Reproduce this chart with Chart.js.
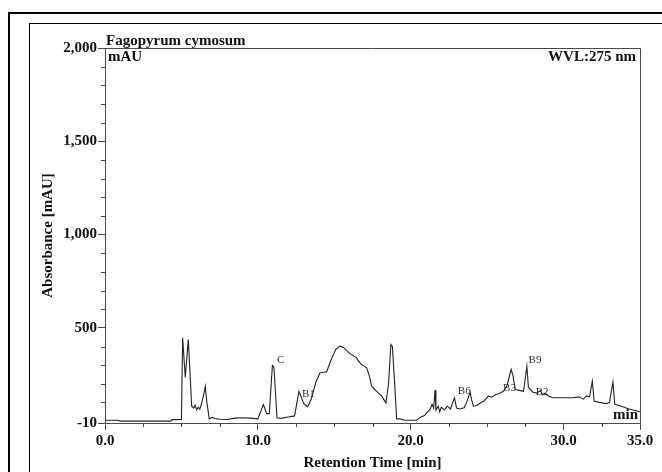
<!DOCTYPE html>
<html>
<head>
<meta charset="utf-8">
<script src="https://cdn.jsdelivr.net/npm/chart.js@4.4.0/dist/chart.umd.min.js"></script>
<style>
  html, body { margin: 0; padding: 0; background: #fff; }
  canvas { display: block; }
</style>
</head>
<body>
<canvas id="chrom" width="662" height="472"></canvas>
<script>
// -------------------------
// Data
// -------------------------
const retentionTime = [
  0.0, 0.8, 1.0, 2.0, 3.0, 4.3, 4.4, 5.0, 5.08, 5.25, 5.45, 5.67, 5.8, 5.9, 6.0, 6.1, 6.2, 6.3, 6.45, 6.56,
  6.65, 6.82, 7.0, 7.2, 7.5, 8.0, 8.5, 9.0, 9.5, 10.0, 10.36, 10.58, 10.75, 10.95, 11.05, 11.25, 11.5, 12.0, 12.4, 12.69,
  13.0, 13.26, 13.5, 13.8, 14.07, 14.3, 14.5, 14.8, 15.1, 15.37, 15.6, 16.03, 16.46, 16.6, 16.79, 17.12, 17.3, 17.44, 17.77, 18.1,
  18.38, 18.55, 18.7, 18.8, 18.95, 19.08, 19.3, 19.6, 20.0, 20.39, 20.6, 20.9, 21.1, 21.26, 21.4, 21.5, 21.59, 21.65, 21.8, 21.9,
  22.0, 22.2, 22.4, 22.6, 22.86, 23.0, 23.2, 23.5, 23.7, 23.88, 24.0, 24.1, 24.32, 24.6, 24.8, 25.08, 25.3, 25.5, 25.8, 26.06, 26.3, 26.57, 26.7,
  26.83, 27.1, 27.38, 27.6, 27.7, 28.0, 28.25, 28.5, 28.6, 28.8, 29.0, 29.3, 30.2, 30.64, 31.0, 31.3, 31.5, 31.7, 31.88, 32.0,
  32.79, 33.0, 33.23, 33.35, 33.7, 34.23, 35.0
];
const absorbance = [
  5, 5, 0, 0, 0, 0, 8, 9, 447, 234, 437, 80, 70, 85, 60, 75, 65, 90, 140, 187,
  110, 12, 20, 14, 10, 9, 16, 18, 16, 12, 89, 40, 40, 298, 290, 18, 15, 22, 28, 160,
  95, 77, 120, 210, 259, 262, 265, 330, 385, 402, 395, 362, 339, 320, 303, 286, 240, 187, 160, 134,
  98, 200, 411, 400, 200, 12, 12, 5, 5, 5, 20, 30, 50, 62, 90, 70, 166, 60, 80, 50,
  75, 60, 80, 65, 125, 70, 65, 72, 110, 155, 110, 80, 84, 100, 108, 134, 128, 140, 148, 160, 190, 277, 240,
  170, 165, 160, 294, 180, 155, 150, 165, 140, 150, 135, 125, 125, 125, 130, 118, 135, 130, 214, 107,
  94, 100, 209, 90, 82, 66, 50
];

// peak annotations
const peakLabels = ["C", "B1", "B6", "B3", "B9", "B2"];
const peakLabelTime = [11.5, 13.3, 23.5, 26.46, 28.13, 28.6];
const peakLabelValue = [325, 143, 160, 175, 325, 153];

// axis ticks
const xMajorTicks = [0, 10, 20, 30, 35];
const xMinorTicks = [2.5, 5, 7.5, 12.5, 15, 17.5, 22.5, 25, 27.5, 32.5];
const yMajorTicks = [-10, 500, 1000, 1500, 2000];
const yMinorTicks = [100, 200, 300, 400, 600, 700, 800, 900, 1100, 1200, 1300, 1400, 1600, 1700, 1800, 1900];

const SERIF = "'Liberation Serif', 'Times New Roman', serif";
const AXIS_COLOR = "#4a4a4a";
const TEXT_COLOR = "#111";

// -------------------------
// Frame, minor ticks and texts
// -------------------------
const decorPlugin = {
  id: "decor",
  beforeDraw(chart) {
    const ctx = chart.ctx;
    ctx.save();
    ctx.fillStyle = "#fff";
    ctx.fillRect(0, 0, chart.width, chart.height);
    ctx.strokeStyle = "#000";
    ctx.lineWidth = 2;
    ctx.strokeRect(9, 13, chart.width + 20, chart.height + 20);
    ctx.lineWidth = 1;
    ctx.strokeRect(29.5, 23.5, chart.width + 20, chart.height + 20);
    ctx.restore();
  },
  afterDraw(chart) {
    const ctx = chart.ctx;
    const { left, right, top, bottom } = chart.chartArea;
    const xs = chart.scales.x, ys = chart.scales.y;
    ctx.save();

    // box on top / right
    ctx.strokeStyle = AXIS_COLOR;
    ctx.lineWidth = 1;
    ctx.beginPath();
    ctx.moveTo(left, top + 0.5);
    ctx.lineTo(right + 0.5, top + 0.5);
    ctx.lineTo(right + 0.5, bottom);
    ctx.stroke();

    // minor ticks
    ctx.beginPath();
    xMinorTicks.forEach(v => {
      const px = Math.round(xs.getPixelForValue(v)) + 0.5;
      ctx.moveTo(px, bottom);
      ctx.lineTo(px, bottom + 4);
    });
    yMinorTicks.forEach(v => {
      const py = Math.round(ys.getPixelForValue(v)) + 0.5;
      ctx.moveTo(left, py);
      ctx.lineTo(left - 4, py);
    });
    ctx.stroke();

    // header texts
    ctx.fillStyle = TEXT_COLOR;
    ctx.font = "bold 15px " + SERIF;
    ctx.textBaseline = "alphabetic";
    ctx.textAlign = "left";
    ctx.fillText("Fagopyrum cymosum", left + 1, top - 3);
    ctx.fillText("mAU", left + 3, top + 13);
    ctx.textAlign = "right";
    ctx.fillText("WVL:275 nm", right - 4, top + 13);
    ctx.fillText("min", right - 2, bottom - 4);

    // axis titles
    ctx.textAlign = "center";
    ctx.fillText("Retention Time [min]", (left + right) / 2, 467);
    ctx.save();
    ctx.translate(48, (top + bottom) / 2);
    ctx.rotate(-Math.PI / 2);
    ctx.textBaseline = "middle";
    ctx.fillText("Absorbance [mAU]", 0, 0);
    ctx.restore();

    // peak labels
    ctx.font = "11px " + SERIF;
    ctx.fillStyle = "#333";
    ctx.textAlign = "center";
    ctx.textBaseline = "middle";
    peakLabels.forEach((lab, i) => {
      ctx.fillText(lab, xs.getPixelForValue(peakLabelTime[i]), ys.getPixelForValue(peakLabelValue[i]));
    });
    ctx.restore();
  }
};

// -------------------------
// Chart
// -------------------------
const ctx = document.getElementById("chrom").getContext("2d");

new Chart(ctx, {
  type: "line",
  data: {
    datasets: [{
      data: retentionTime.map((t, i) => ({ x: t, y: absorbance[i] })),
      borderColor: "#222",
      borderWidth: 1.1,
      pointRadius: 0,
      tension: 0,
      fill: false
    }]
  },
  options: {
    responsive: false,
    animation: false,
    layout: { padding: { top: 48, right: 22, left: 0, bottom: 0 } },
    plugins: { legend: { display: false }, tooltip: { enabled: false } },
    scales: {
      x: {
        type: "linear",
        min: 0,
        max: 35,
        afterBuildTicks: s => { s.ticks = xMajorTicks.map(v => ({ value: v })); },
        afterFit: s => { s.height = 49; },
        ticks: {
          autoSkip: false,
          maxRotation: 0,
          padding: 2,
          color: TEXT_COLOR,
          font: { family: SERIF, size: 15, weight: "bold" },
          callback: v => Number(v).toFixed(1)
        },
        grid: { drawOnChartArea: false, drawTicks: true, tickLength: 7, color: AXIS_COLOR },
        border: { display: true, color: AXIS_COLOR }
      },
      y: {
        min: -10,
        max: 2000,
        afterBuildTicks: s => { s.ticks = yMajorTicks.map(v => ({ value: v })); },
        afterFit: s => { s.width = 105; },
        ticks: {
          autoSkip: false,
          padding: 1,
          color: TEXT_COLOR,
          font: { family: SERIF, size: 15, weight: "bold" },
          callback: v => Number(v).toLocaleString("en-US")
        },
        grid: { drawOnChartArea: false, drawTicks: true, tickLength: 7, color: AXIS_COLOR },
        border: { display: true, color: AXIS_COLOR }
      }
    }
  },
  plugins: [decorPlugin]
});
</script>
</body>
</html>
